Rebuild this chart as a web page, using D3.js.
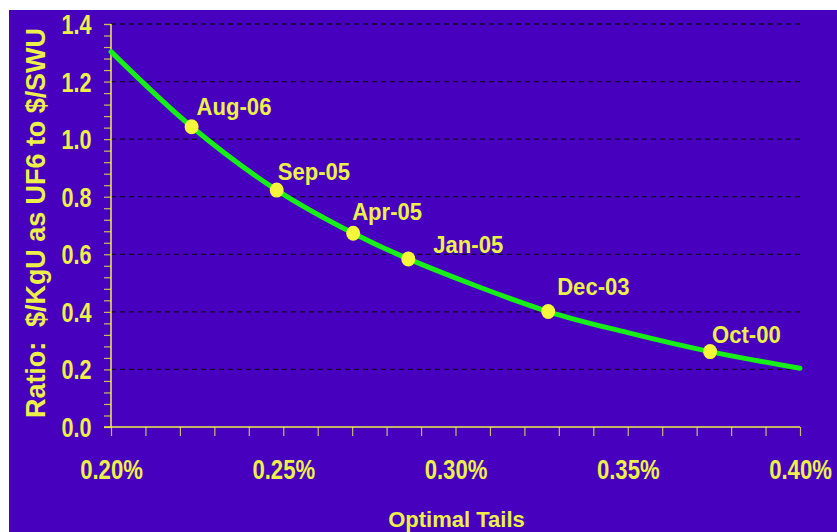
<!DOCTYPE html>
<html>
<head>
<meta charset="utf-8">
<script src="https://cdn.jsdelivr.net/npm/d3@7"></script>
<style>
  html, body { margin: 0; padding: 0; background: #ffffff; }
  svg { display: block; font-family: "Liberation Sans", Arial, sans-serif; font-weight: bold; }
</style>
</head>
<body>
<svg id="chart" width="837" height="532"></svg>
<script>
// Optimal tails vs. price ratio ($/KgU as UF6 to $/SWU)
const curveTails = [0.200, 0.2234, 0.2481, 0.2703, 0.2863, 0.3269, 0.350, 0.3739, 0.400];
const curveRatio = [1.304, 1.043, 0.823, 0.673, 0.584, 0.401, 0.328, 0.262, 0.204];

const pointLabels = ["Aug-06", "Sep-05", "Apr-05", "Jan-05", "Dec-03", "Oct-00"];
const pointTails  = [0.2234, 0.2481, 0.2703, 0.2863, 0.3269, 0.3739];
const pointRatio  = [1.043, 0.823, 0.673, 0.584, 0.401, 0.262];

const xTickValues = [0.20, 0.25, 0.30, 0.35, 0.40];
const yTickValues = [0.0, 0.2, 0.4, 0.6, 0.8, 1.0, 1.2, 1.4];

const xTitle = "Optimal Tails";
const yTitle = "Ratio:  $/KgU as UF6 to $/SWU";

// label placement relative to each marker (dx, dy in px)
const labelOffsets = [[5, -12], [1, -10], [-1, -13], [25, -6], [9, -17], [2, -9]];

const W = 837, H = 532;
const plot = { left: 111, right: 800, top: 24, bottom: 427 };
const BG = "#4600BE", YELLOW = "#EEF04A", DOT = "#F6F63A", GREEN = "#18EE18", TICK = "#C8BC6A";

const svg = d3.select("#chart");
svg.append("rect").attr("x", 9).attr("y", 10).attr("width", W - 9).attr("height", H - 10).attr("fill", BG);

const x = d3.scaleLinear().domain([0.20, 0.40]).range([plot.left, plot.right]);
const y = d3.scaleLinear().domain([0, 1.4]).range([plot.bottom, plot.top]);

// dashed horizontal gridlines
svg.append("g").selectAll("line")
  .data(yTickValues.filter(v => v > 0))
  .join("line")
  .attr("x1", plot.left).attr("x2", plot.right)
  .attr("y1", d => y(d)).attr("y2", d => y(d))
  .attr("stroke", "#14082e").attr("stroke-width", 1.3)
  .attr("stroke-dasharray", "5,4");

// minor ticks
const yMinor = d3.range(0, 36).map(i => +(i * 0.04).toFixed(2)).concat([1.4]);
const xMinor = d3.range(0, 21).map(i => +(0.20 + i * 0.01).toFixed(2));

const yAxisG = svg.append("g").attr("transform", `translate(${plot.left},0)`)
  .call(d3.axisLeft(y).tickValues(yMinor).tickSize(7).tickFormat(""));
const xAxisG = svg.append("g").attr("transform", `translate(0,${plot.bottom})`)
  .call(d3.axisBottom(x).tickValues(xMinor).tickSize(9).tickFormat(""));

[yAxisG, xAxisG].forEach(g => {
  g.select(".domain").remove();
  g.selectAll(".tick line").attr("stroke", TICK).attr("stroke-width", 1.2);
});

// axis lines
svg.append("line").attr("x1", plot.left).attr("x2", plot.left)
  .attr("y1", plot.top).attr("y2", plot.bottom)
  .attr("stroke", YELLOW).attr("stroke-width", 1.5);
svg.append("line").attr("x1", plot.left - 7).attr("x2", plot.right)
  .attr("y1", plot.bottom).attr("y2", plot.bottom)
  .attr("stroke", YELLOW).attr("stroke-width", 1.5);

// tick labels (condensed bold)
const yLab = svg.append("g").attr("transform", `translate(${plot.left},0)`)
  .call(d3.axisLeft(y).tickValues(yTickValues).tickSize(0).tickFormat(d3.format(".1f")));
yLab.select(".domain").remove();
yLab.selectAll(".tick text")
  .attr("fill", YELLOW).attr("font-size", 27).attr("font-family", "Liberation Sans, Arial, sans-serif")
  .attr("font-weight", "bold")
  .attr("x", -19.5 / 0.8).attr("dy", "0.35em")
  .attr("transform", "scale(0.8,1)");

const xLab = svg.append("g").attr("transform", `translate(0,${plot.bottom})`)
  .call(d3.axisBottom(x).tickValues(xTickValues).tickSize(0).tickFormat(d => d.toFixed(2) + "%"));
xLab.select(".domain").remove();
xLab.selectAll(".tick text")
  .attr("fill", YELLOW).attr("font-size", 28).attr("font-family", "Liberation Sans, Arial, sans-serif")
  .attr("font-weight", "bold")
  .attr("y", 52).attr("dy", 0)
  .attr("transform", "scale(0.79,1)");

// the curve
const line = d3.line().x(d => x(d[0])).y(d => y(d[1])).curve(d3.curveCatmullRom.alpha(0.5));
svg.append("path")
  .datum(curveTails.map((t, i) => [t, curveRatio[i]]))
  .attr("d", line)
  .attr("fill", "none").attr("stroke", GREEN).attr("stroke-width", 5)
  .attr("stroke-linecap", "round").attr("stroke-linejoin", "round");

// dated markers
const pts = pointLabels.map((name, i) => ({ name, t: pointTails[i], r: pointRatio[i], off: labelOffsets[i] }));
svg.append("g").selectAll("ellipse").data(pts).join("ellipse")
  .attr("cx", d => x(d.t)).attr("cy", d => y(d.r))
  .attr("rx", 7).attr("ry", 7.5).attr("fill", DOT);

svg.append("g").selectAll("text").data(pts).join("text")
  .attr("transform", d => `translate(${x(d.t) + d.off[0]},${y(d.r) + d.off[1]}) scale(0.92,1)`)
  .attr("fill", YELLOW).attr("font-size", 24)
  .text(d => d.name);

// axis titles
svg.append("text")
  .attr("x", (plot.left + plot.right) / 2 + 1).attr("y", 527)
  .attr("text-anchor", "middle").attr("fill", YELLOW).attr("font-size", 22)
  .text(xTitle);

svg.append("text")
  .attr("transform", `translate(45,${(418 + 28) / 2}) rotate(-90)`)
  .attr("text-anchor", "middle").attr("fill", YELLOW).attr("font-size", 27)
  .attr("textLength", 390).attr("lengthAdjust", "spacing")
  .style("white-space", "pre")
  .text(yTitle);
</script>
</body>
</html>
